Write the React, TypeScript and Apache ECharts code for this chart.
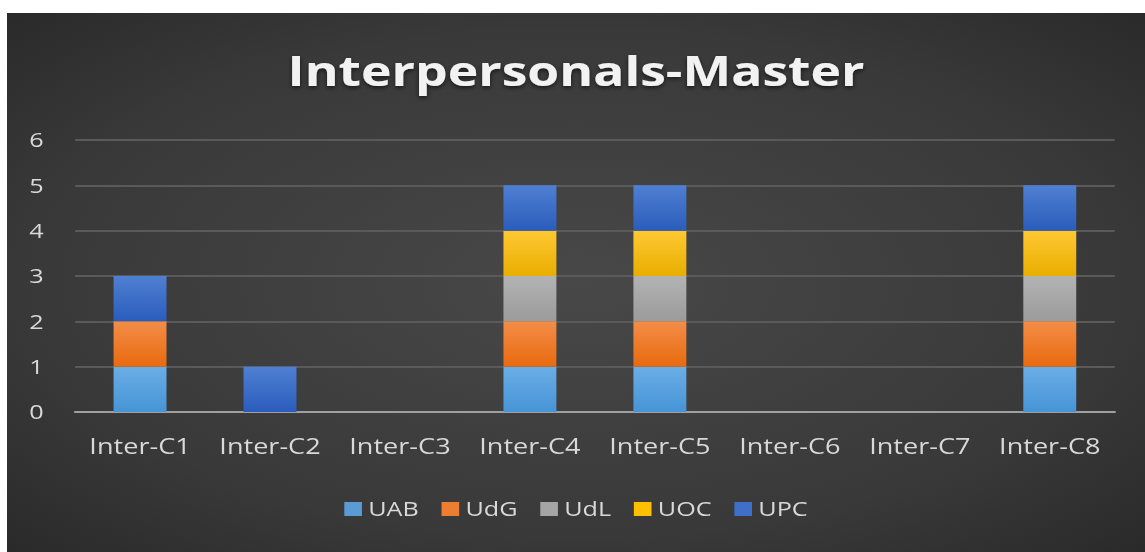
import React, { useEffect, useRef } from "react";
import * as echarts from "echarts";

const categories = ["Inter-C1", "Inter-C2", "Inter-C3", "Inter-C4", "Inter-C5", "Inter-C6", "Inter-C7", "Inter-C8"];
const seriesNames = ["UAB", "UdG", "UdL", "UOC", "UPC"];
const uab = [1, 0, 0, 1, 1, 0, 0, 1];
const udg = [1, 0, 0, 1, 1, 0, 0, 1];
const udl = [0, 0, 0, 1, 1, 0, 0, 1];
const uoc = [0, 0, 0, 1, 1, 0, 0, 1];
const upc = [1, 1, 0, 1, 1, 0, 0, 1];
const yTicks = [0, 1, 2, 3, 4, 5, 6];

const seriesValues = [uab, udg, udl, uoc, upc];
const colorTops = ["#6aaee6", "#f38d48", "#b3b3b3", "#ffc832", "#4f80d2"];
const colorBottoms = ["#4694d6", "#e86a0e", "#9b9b9b", "#e8ae00", "#2a5cbc"];
const legendColors = ["#5b9bd5", "#ed7d31", "#a5a5a5", "#ffc000", "#3f6fc8"];

// The reference picture is horizontally stretched; draw at natural width and stretch.
const NATURAL_W = 903;
const SCALE_X = 1138 / NATURAL_W;

export default function App() {
  const ref = useRef<HTMLDivElement>(null);
  useEffect(() => {
    if (!ref.current) return;
    const chart = echarts.init(ref.current, undefined, { renderer: "svg" });
    const font = "'Open Sans'";
    chart.setOption({
      animation: false,
      backgroundColor: {
        type: "radial",
        x: 0.5,
        y: 0.5,
        r: 1.05,
        colorStops: [
          { offset: 0, color: "#484848" },
          { offset: 0.45, color: "#393939" },
          { offset: 1, color: "#141414" },
        ],
      },
      title: {
        text: "Interpersonals-Master",
        left: "center",
        top: 32,
        padding: [5, 5, 5, 28],
        textStyle: {
          color: "#f2f2f2",
          fontFamily: font,
          fontWeight: "bold",
          fontSize: 41,
          textShadowColor: "rgba(0,0,0,0.6)",
          textShadowBlur: 4,
          textShadowOffsetY: 2,
        },
      },
      legend: {
        data: seriesNames.map((n, i) => ({ name: n, itemStyle: { color: legendColors[i] } })),
        bottom: 28,
        left: "center",
        itemWidth: 14,
        itemHeight: 14,
        itemGap: 18,
        icon: "rect",
        textStyle: { color: "#d9d9d9", fontFamily: font, fontSize: 20 },
      },
      grid: { left: 54, right: 24, top: 127, bottom: 140 },
      xAxis: {
        type: "category",
        data: categories,
        axisLine: { lineStyle: { color: "#a0a0a0", width: 2 } },
        axisTick: { show: false },
        axisLabel: { color: "#d9d9d9", fontFamily: font, fontSize: 21.5, margin: 23, interval: 0 },
        splitLine: { show: false },
      },
      yAxis: {
        type: "value",
        min: yTicks[0],
        max: yTicks[yTicks.length - 1],
        interval: 1,
        axisLine: { show: false },
        axisTick: { show: false },
        axisLabel: { color: "#d9d9d9", fontFamily: font, fontSize: 20, margin: 25 },
        splitLine: { lineStyle: { color: "#5a5a5a", width: 2 } },
      },
      series: seriesValues.map((vals, i) => ({
        name: seriesNames[i],
        type: "bar",
        stack: "total",
        barWidth: 42,
        data: vals,
        itemStyle: {
          color: {
            type: "linear",
            x: 0,
            y: 0,
            x2: 0,
            y2: 1,
            colorStops: [
              { offset: 0, color: colorTops[i] },
              { offset: 1, color: colorBottoms[i] },
            ],
          },
        },
      })),
    });
    return () => chart.dispose();
  }, []);
  return (
    <div
      ref={ref}
      style={{
        position: "absolute",
        left: 7,
        top: 13,
        width: NATURAL_W,
        height: 539,
        transform: `scaleX(${SCALE_X})`,
        transformOrigin: "0 0",
      }}
    />
  );
}
